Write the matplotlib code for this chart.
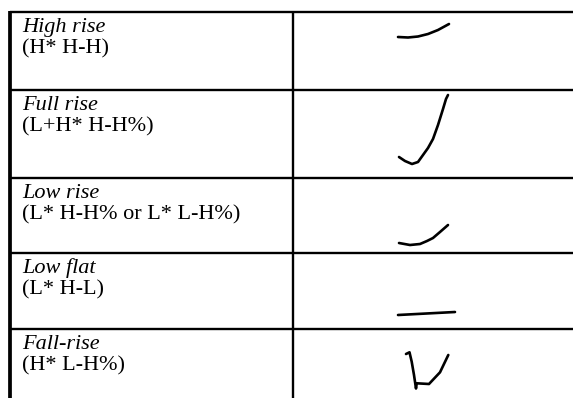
import matplotlib
matplotlib.use("Agg")
import matplotlib.pyplot as plt

# ---- data ----
titles = ["High rise", "Full rise", "Low rise", "Low flat", "Fall-rise"]
labels = ["(H* H-H)", "(L+H* H-H%)", "(L* H-H% or L* L-H%)", "(L* H-L)", "(H* L-H%)"]

# hand-drawn pitch contours (x, y in image pixels)
high_rise_x = [398, 408, 418, 428, 438, 449]
high_rise_y = [37, 37.5, 36.5, 34, 30, 24]
full_rise_x = [399, 405, 412, 418, 423, 428, 433, 438, 443, 446, 448]
full_rise_y = [157, 161, 164, 162, 155, 148, 139, 125, 109, 99, 95]
low_rise_x = [399, 410, 420, 427, 433, 440, 448]
low_rise_y = [243, 245, 244, 241, 238, 232, 225]
low_flat_x = [398, 455]
low_flat_y = [315, 312]
fall_rise_x = [406, 409.5, 411.7, 414, 416, 416.7, 429, 440, 448.3]
fall_rise_y = [354, 352.3, 361.7, 375, 388.5, 383.3, 384, 372.3, 355]

contours = [(high_rise_x, high_rise_y), (full_rise_x, full_rise_y),
            (low_rise_x, low_rise_y), (low_flat_x, low_flat_y),
            (fall_rise_x, fall_rise_y)]

# ---- layout ----
W, H = 573, 398
row_tops = [12, 90, 178, 253, 329]
left_x, mid_x = 10, 293

fig = plt.figure(figsize=(W / 100, H / 100), dpi=100)
ax = fig.add_axes([0, 0, 1, 1])
ax.set_xlim(0, W)
ax.set_ylim(H, 0)
ax.axis("off")

# grid lines
for y in row_tops:
    ax.plot([left_x, W], [y, y], color="black", lw=1.7, solid_capstyle="butt")
ax.plot([left_x, left_x], [row_tops[0] - 1, H], color="black", lw=2.7, solid_capstyle="butt")
ax.plot([mid_x, mid_x], [row_tops[0], H], color="black", lw=1.7, solid_capstyle="butt")

for top, t, lab in zip(row_tops, titles, labels):
    ax.text(22, top + 20, t, fontfamily="Liberation Serif", fontstyle="italic",
            fontsize=16, va="baseline", ha="left", color="black")
    ax.text(22, top + 41, lab, fontfamily="Liberation Serif",
            fontsize=16, va="baseline", ha="left", color="black")

for xs, ys in contours:
    ax.plot(xs, ys, color="black", lw=1.9, solid_capstyle="round", solid_joinstyle="round")

fig.savefig("out.png", dpi=100)
